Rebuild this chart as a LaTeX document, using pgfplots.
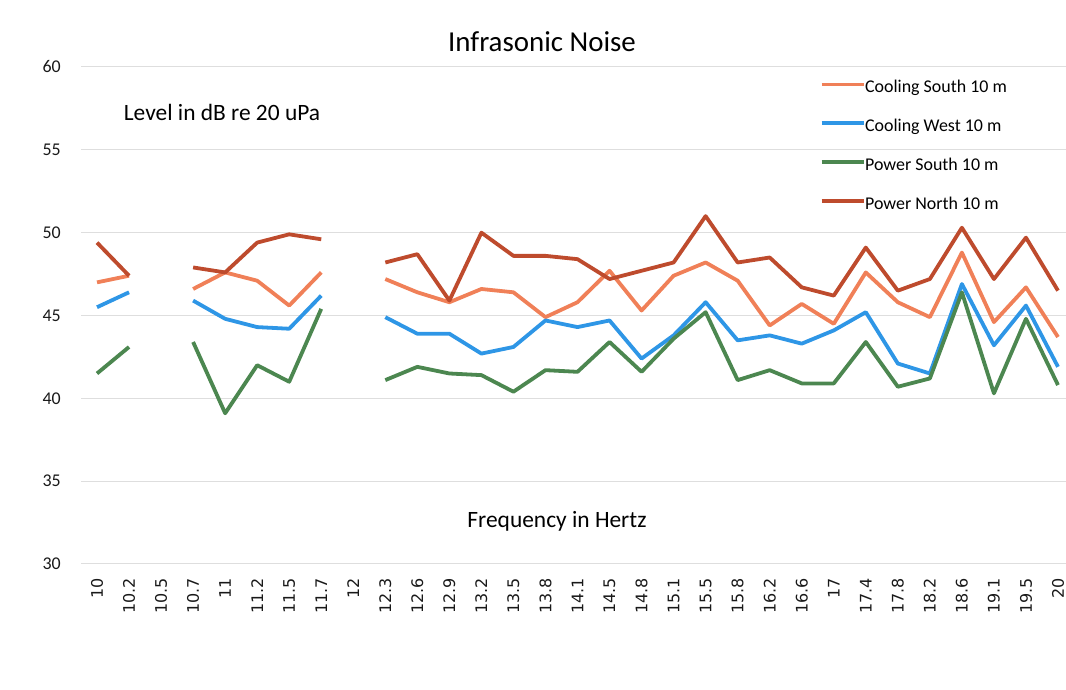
\documentclass[border=0pt]{standalone}
\usepackage{pgfplots}
\pgfplotsset{compat=1.18}
\usepackage{fontspec}
\setmainfont{Carlito}
\newfontfamily\dejavu{DejaVu Sans}
\definecolor{cSouth}{RGB}{240,128,88}
\definecolor{cWest}{RGB}{46,150,230}
\definecolor{pSouth}{RGB}{76,135,80}
\definecolor{pNorth}{RGB}{190,75,45}
\definecolor{gridc}{RGB}{222,222,222}
\begin{document}
\begin{tikzpicture}
\begin{axis}[
  at={(81bp,126bp)}, anchor=south west,
  scale only axis, width=985bp, height=497bp,
  xmin=-0.5, xmax=30.25, ymin=30, ymax=60,
  axis line style={draw=none},
  ymajorgrids, grid style={gridc, line width=1bp},
  major tick length=0pt,
  ytick={30,35,...,60},
  xtick={0,...,30},
  xticklabels={10,10.2,10.5,10.7,11,11.2,11.5,11.7,12,12.3,12.6,12.9,13.2,13.5,13.8,14.1,14.5,14.8,15.1,15.5,15.8,16.2,16.6,17,17.4,17.8,18.2,18.6,19.1,19.5,20},
  /pgf/number format/assume math mode=true,
  yticklabel style={font=\fontsize{18}{18}\selectfont, color=black!90, anchor=east, inner sep=0pt},
  yticklabel shift=20bp,
  xticklabel style={font=\dejavu\fontsize{16}{16}\selectfont, color=black!90, rotate=90, anchor=east, inner sep=0pt},
  xticklabel shift=14bp,
  unbounded coords=jump,
  every axis plot/.append style={line width=3.8bp, line join=round, no markers},
  legend cell align=left,
  legend image code/.code={\draw[#1, line width=3.2bp] (0bp,0.3em) -- (42bp,0.3em);},
  legend style={at={(0.750,0.974)}, anchor=north west, draw=none, fill=none,
    inner sep=0pt, row sep=25bp, font=\fontsize{18}{18}\selectfont, text=black,
    nodes={inner sep=0pt}, /tikz/every even column/.append style={column sep=6bp}},
]
\addplot[cSouth] coordinates {
(0,47.0)(1,47.4)(2,nan)(3,46.6)(4,47.6)(5,47.1)(6,45.6)(7,47.6)(8,nan)(9,47.2)(10,46.4)(11,45.8)(12,46.6)(13,46.4)(14,44.9)(15,45.8)(16,47.7)(17,45.3)(18,47.4)(19,48.2)(20,47.1)(21,44.4)(22,45.7)(23,44.5)(24,47.6)(25,45.8)(26,44.9)(27,48.8)(28,44.6)(29,46.7)(30,43.7)};
\addlegendentry{Cooling South 10 m}
\addplot[cWest] coordinates {
(0,45.5)(1,46.4)(2,nan)(3,45.9)(4,44.8)(5,44.3)(6,44.2)(7,46.2)(8,nan)(9,44.9)(10,43.9)(11,43.9)(12,42.7)(13,43.1)(14,44.7)(15,44.3)(16,44.7)(17,42.4)(18,43.8)(19,45.8)(20,43.5)(21,43.8)(22,43.3)(23,44.1)(24,45.2)(25,42.1)(26,41.5)(27,46.9)(28,43.2)(29,45.6)(30,41.9)};
\addlegendentry{Cooling West 10 m}
\addplot[pSouth] coordinates {
(0,41.5)(1,43.1)(2,nan)(3,43.4)(4,39.1)(5,42.0)(6,41.0)(7,45.4)(8,nan)(9,41.1)(10,41.9)(11,41.5)(12,41.4)(13,40.4)(14,41.7)(15,41.6)(16,43.4)(17,41.6)(18,43.6)(19,45.2)(20,41.1)(21,41.7)(22,40.9)(23,40.9)(24,43.4)(25,40.7)(26,41.2)(27,46.4)(28,40.3)(29,44.8)(30,40.8)};
\addlegendentry{Power South 10 m}
\addplot[pNorth] coordinates {
(0,49.4)(1,47.4)(2,nan)(3,47.9)(4,47.6)(5,49.4)(6,49.9)(7,49.6)(8,nan)(9,48.2)(10,48.7)(11,45.9)(12,50.0)(13,48.6)(14,48.6)(15,48.4)(16,47.2)(17,47.7)(18,48.2)(19,51.0)(20,48.2)(21,48.5)(22,46.7)(23,46.2)(24,49.1)(25,46.5)(26,47.2)(27,50.3)(28,47.2)(29,49.7)(30,46.5)};
\addlegendentry{Power North 10 m}
\end{axis}
\node[font=\fontsize{29}{29}\selectfont, text=black] at (542bp,648bp) {Infrasonic Noise};
\node[font=\fontsize{23.5}{23.5}\selectfont, text=black] at (222bp,578bp) {Level in dB re 20 uPa};
\node[font=\fontsize{23.5}{23.5}\selectfont, text=black] at (557bp,169bp) {Frequency in Hertz};
\pgfresetboundingbox
\path[use as bounding box] (0,0) rectangle (1066bp,690bp);
\end{tikzpicture}
\end{document}
